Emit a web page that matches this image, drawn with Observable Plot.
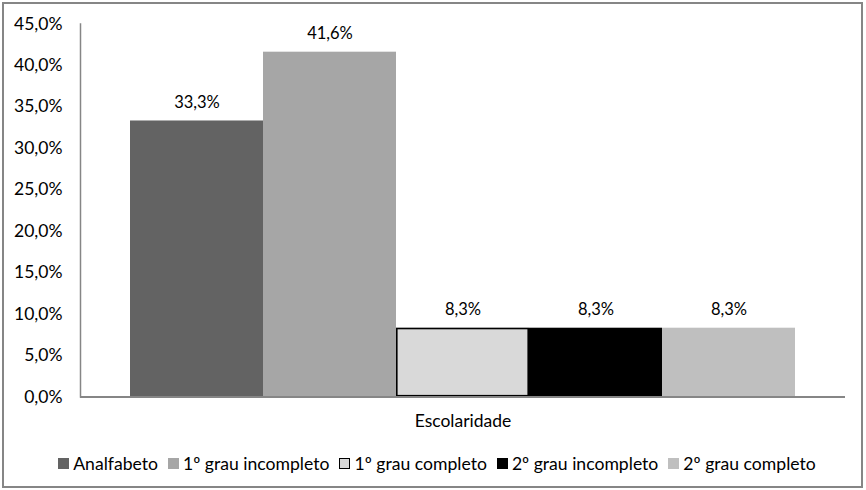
<!DOCTYPE html>
<html>
<head>
<meta charset="utf-8">
<script src="https://cdn.jsdelivr.net/npm/d3@7"></script>
<script src="https://cdn.jsdelivr.net/npm/@observablehq/plot@0.6"></script>
<style>
  html, body { margin: 0; padding: 0; background: #fff; }
  #wrap { position: relative; width: 866px; height: 490px; font-family: Lato, "Open Sans", sans-serif; }
  #border { position: absolute; left: 2px; top: 2px; width: 857px; height: 482px; border: 2px solid #868686; pointer-events: none; }
  #chart { position: absolute; left: 0; top: 0; }
  #legend { position: absolute; left: 0; top: 451px; width: 866px; height: 24px; display: flex; justify-content: center; align-items: center; font-size: 17.6px; color: #000; padding-left: 8px; box-sizing: border-box; }
  .item { display: flex; align-items: center; margin-right: 10px; white-space: nowrap; }
  .item:last-child { margin-right: 0; }
  .sw { width: 11px; height: 11px; margin-right: 4px; box-sizing: border-box; }
</style>
</head>
<body>
<div id="wrap">
  <div id="chart"></div>
  <div id="legend"></div>
  <div id="border"></div>
</div>
<script>
// Share of respondents by schooling level
const group = "Escolaridade";
const categories = ["Analfabeto", "1º grau incompleto", "1º grau completo", "2º grau incompleto", "2º grau completo"];
const values = [33.3, 41.6, 8.3, 8.3, 8.3];
const colors = ["#636363", "#a6a6a6", "#d9d9d9", "#000000", "#bfbfbf"];
const outlined = "1º grau completo";
const yTicks = [0, 5, 10, 15, 20, 25, 30, 35, 40, 45];

const pct = d => d.toFixed(1).replace(".", ",") + "%";
const data = categories.map((c, i) => ({group, cat: c, value: values[i]}));

const chart = Plot.plot({
  width: 866,
  height: 490,
  marginLeft: 80,
  marginRight: 21,
  marginTop: 23.5,
  marginBottom: 93.5,
  style: {fontFamily: "Lato, 'Open Sans', sans-serif", fontSize: "16px", color: "#000", background: "transparent"},
  fx: {domain: [group], padding: 0, label: null, round: false},
  x: {domain: categories, paddingInner: 0, paddingOuter: 0.376, round: false, axis: null},
  y: {domain: [0, 45], label: null},
  color: {domain: categories, range: colors},
  marks: [
    Plot.axisY({ticks: yTicks, tickSize: 0, tickPadding: 18, tickFormat: pct, label: null, fontSize: 17.5}),
    Plot.axisFx({anchor: "bottom", tickSize: 0, tickPadding: 18, label: null, fontSize: 17.5}),
    Plot.barY(data, {fx: "group", x: "cat", y: "value", fill: "cat", inset: 0}),
    Plot.barY(data, {fx: "group", x: "cat", y: "value", filter: d => d.cat === outlined, fill: "none", stroke: "#000", strokeWidth: 1.6, inset: 0.8}),
    Plot.text(data, {fx: "group", x: "cat", y: "value", text: d => pct(d.value), dy: -18, fill: "#000", fontSize: 16.5}),
    Plot.frame({anchor: "left", stroke: "#868686", strokeWidth: 1.5}),
    Plot.ruleY([0], {stroke: "#868686", strokeWidth: 2})
  ]
});
document.getElementById("chart").appendChild(chart);

// Legend row
const legend = document.getElementById("legend");
categories.forEach((c, i) => {
  const item = document.createElement("div");
  item.className = "item";
  const sw = document.createElement("div");
  sw.className = "sw";
  sw.style.background = colors[i];
  if (c === outlined) sw.style.border = "1.5px solid #000";
  const label = document.createElement("span");
  label.textContent = c;
  item.appendChild(sw);
  item.appendChild(label);
  legend.appendChild(item);
});
</script>
</body>
</html>
